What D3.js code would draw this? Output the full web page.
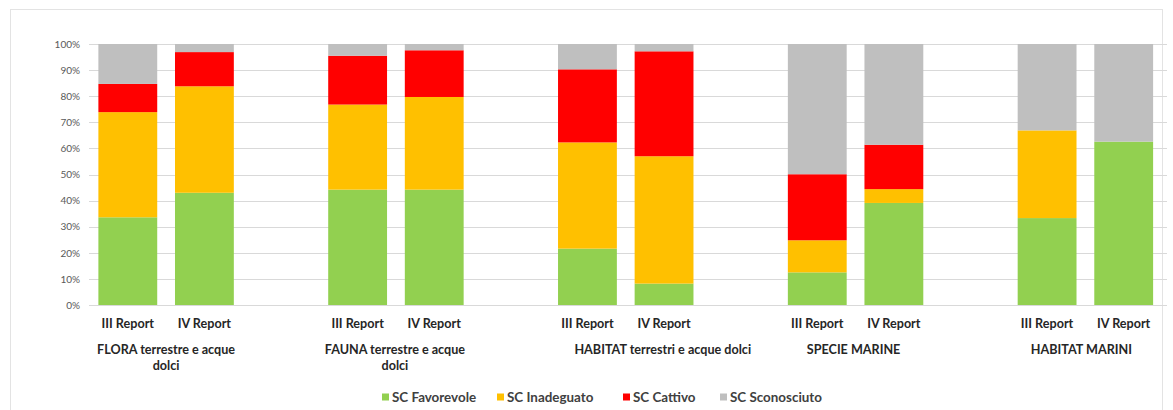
<!doctype html>
<html>
  <head>
    <meta charset="utf-8">
    <title>Stato di conservazione</title>
    <script src="https://d3js.org/d3.v7.min.js"></script>
    <style type="text/css">
      body { margin: 0; background-color: #ffffff; }
      text { font-family: Lato, "Open Sans", sans-serif; }
    </style>
  </head>
  <body>
    <script>
      // categories
      var groups = ["FLORA terrestre e acque dolci", "FAUNA terrestre e acque dolci",
                    "HABITAT terrestri e acque dolci", "SPECIE MARINE", "HABITAT MARINI"];
      var reports = ["III Report", "IV Report"];
      var seriesNames = ["SC Favorevole", "SC Inadeguato", "SC Cattivo", "SC Sconosciuto"];

      // values in %, one entry per bar (group x report)
      var favorevole  = [33.6, 43.0, 44.2, 44.2, 21.6,  8.2, 12.5, 39.1, 33.3, 62.6];
      var inadeguato  = [40.3, 40.8, 32.6, 35.5, 40.7, 48.8, 12.3,  5.3, 33.6,  0.0];
      var cattivo     = [10.8, 13.1, 18.7, 17.9, 28.0, 40.2, 25.3, 17.0,  0.0,  0.0];
      var sconosciuto = [15.3,  3.1,  4.5,  2.4,  9.7,  2.8, 49.9, 38.6, 33.1, 37.4];

      var yTicks = [0, 10, 20, 30, 40, 50, 60, 70, 80, 90, 100];

      var colors = ["#92d050", "#ffc000", "#ff0000", "#bfbfbf"];

      var w = 1173, h = 410;
      var svg = d3.select("body").append("svg")
        .attr("width", w).attr("height", h);

      // faint chart area border
      svg.append("rect")
        .attr("x", 10.5).attr("y", 9.5)
        .attr("width", 1152).attr("height", 420)
        .style("fill", "none").style("stroke", "#e3e3e3");

      // slots: III, IV, blank per group (no blank after the last)
      var slots = [];
      var rows = [];
      groups.forEach(function(g, gi) {
        reports.forEach(function(r, ri) {
          var i = gi * 2 + ri;
          var key = g + "|" + r;
          slots.push(key);
          rows.push({ key: key, group: g, report: r,
            "SC Favorevole": favorevole[i], "SC Inadeguato": inadeguato[i],
            "SC Cattivo": cattivo[i], "SC Sconosciuto": sconosciuto[i] });
        });
        if (gi < groups.length - 1) slots.push("blank" + gi);
      });

      var x = d3.scaleBand().domain(slots).range([89.5, 1162])
        .paddingInner(0.232).paddingOuter(0.116);
      var y = d3.scaleLinear().domain([0, 100]).range([305, 44]);

      // gridlines
      svg.append("g").selectAll("line")
        .data(yTicks).enter().append("line")
        .attr("x1", 89).attr("x2", 1167)
        .attr("y1", function(d) { return Math.round(y(d)) + 0.5; })
        .attr("y2", function(d) { return Math.round(y(d)) + 0.5; })
        .style("stroke", "#d9d9d9").style("stroke-width", 1);

      // y axis labels
      var yAxis = d3.axisLeft(y).tickValues(yTicks)
        .tickFormat(function(d) { return d + "%"; }).tickSize(0).tickPadding(0);
      var gy = svg.append("g").attr("transform", "translate(80,0)").call(yAxis);
      gy.select(".domain").remove();
      gy.selectAll("text").style("font-size", "10px").style("fill", "#595959")
        .style("font-family", "Lato, sans-serif");

      // stacked bars
      var stack = d3.stack().keys(seriesNames);
      var layers = stack(rows);
      svg.append("g").selectAll("g")
        .data(layers).enter().append("g")
        .style("fill", function(d, i) { return colors[i]; })
        .selectAll("rect")
        .data(function(d) { return d; }).enter().append("rect")
        .attr("x", function(d) { return x(d.data.key); })
        .attr("width", x.bandwidth())
        .attr("y", function(d) { return y(d[1]); })
        .attr("height", function(d) { return y(d[0]) - y(d[1]); });

      // report labels
      svg.append("g").selectAll("text")
        .data(rows).enter().append("text")
        .attr("x", function(d) { return x(d.key) + x.bandwidth() / 2; })
        .attr("y", 328)
        .attr("text-anchor", "middle")
        .style("font-size", "12.6px").style("font-weight", "bold").style("fill", "#262626")
        .text(function(d) { return d.report; });

      // group labels (FLORA and FAUNA wrap onto two lines)
      var groupLines = [["FLORA terrestre e acque", "dolci"], ["FAUNA terrestre e acque", "dolci"],
                        ["HABITAT terrestri e acque dolci"], ["SPECIE MARINE"], ["HABITAT MARINI"]];
      var groupDx = [0, -1, 37, -2, -4];
      var gl = svg.append("g").selectAll("text")
        .data(groups).enter().append("text")
        .attr("text-anchor", "middle")
        .style("font-size", "12.6px").style("font-weight", "bold").style("fill", "#262626")
        .attr("transform", function(d, i) {
          var a = x(d + "|" + reports[0]), b = x(d + "|" + reports[1]) + x.bandwidth();
          return "translate(" + ((a + b) / 2 + groupDx[i]) + ",354)";
        });
      gl.selectAll("tspan")
        .data(function(d, i) { return groupLines[i]; }).enter().append("tspan")
        .attr("x", 0).attr("dy", function(d, i) { return i === 0 ? 0 : 15.6; })
        .text(function(d) { return d; });

      // legend
      var legendX = [382, 497, 623, 720];
      var lg = svg.append("g").selectAll("g")
        .data(seriesNames).enter().append("g")
        .attr("transform", function(d, i) { return "translate(" + legendX[i] + ",397)"; });
      lg.append("rect").attr("x", 0).attr("y", -3.5).attr("width", 7).attr("height", 7)
        .style("fill", function(d, i) { return colors[i]; });
      lg.append("text").attr("x", 10).attr("y", 5)
        .style("font-size", "13.4px").style("font-weight", "bold").style("fill", "#404040")
        .text(function(d) { return d; });
    </script>
  </body>
</html>
